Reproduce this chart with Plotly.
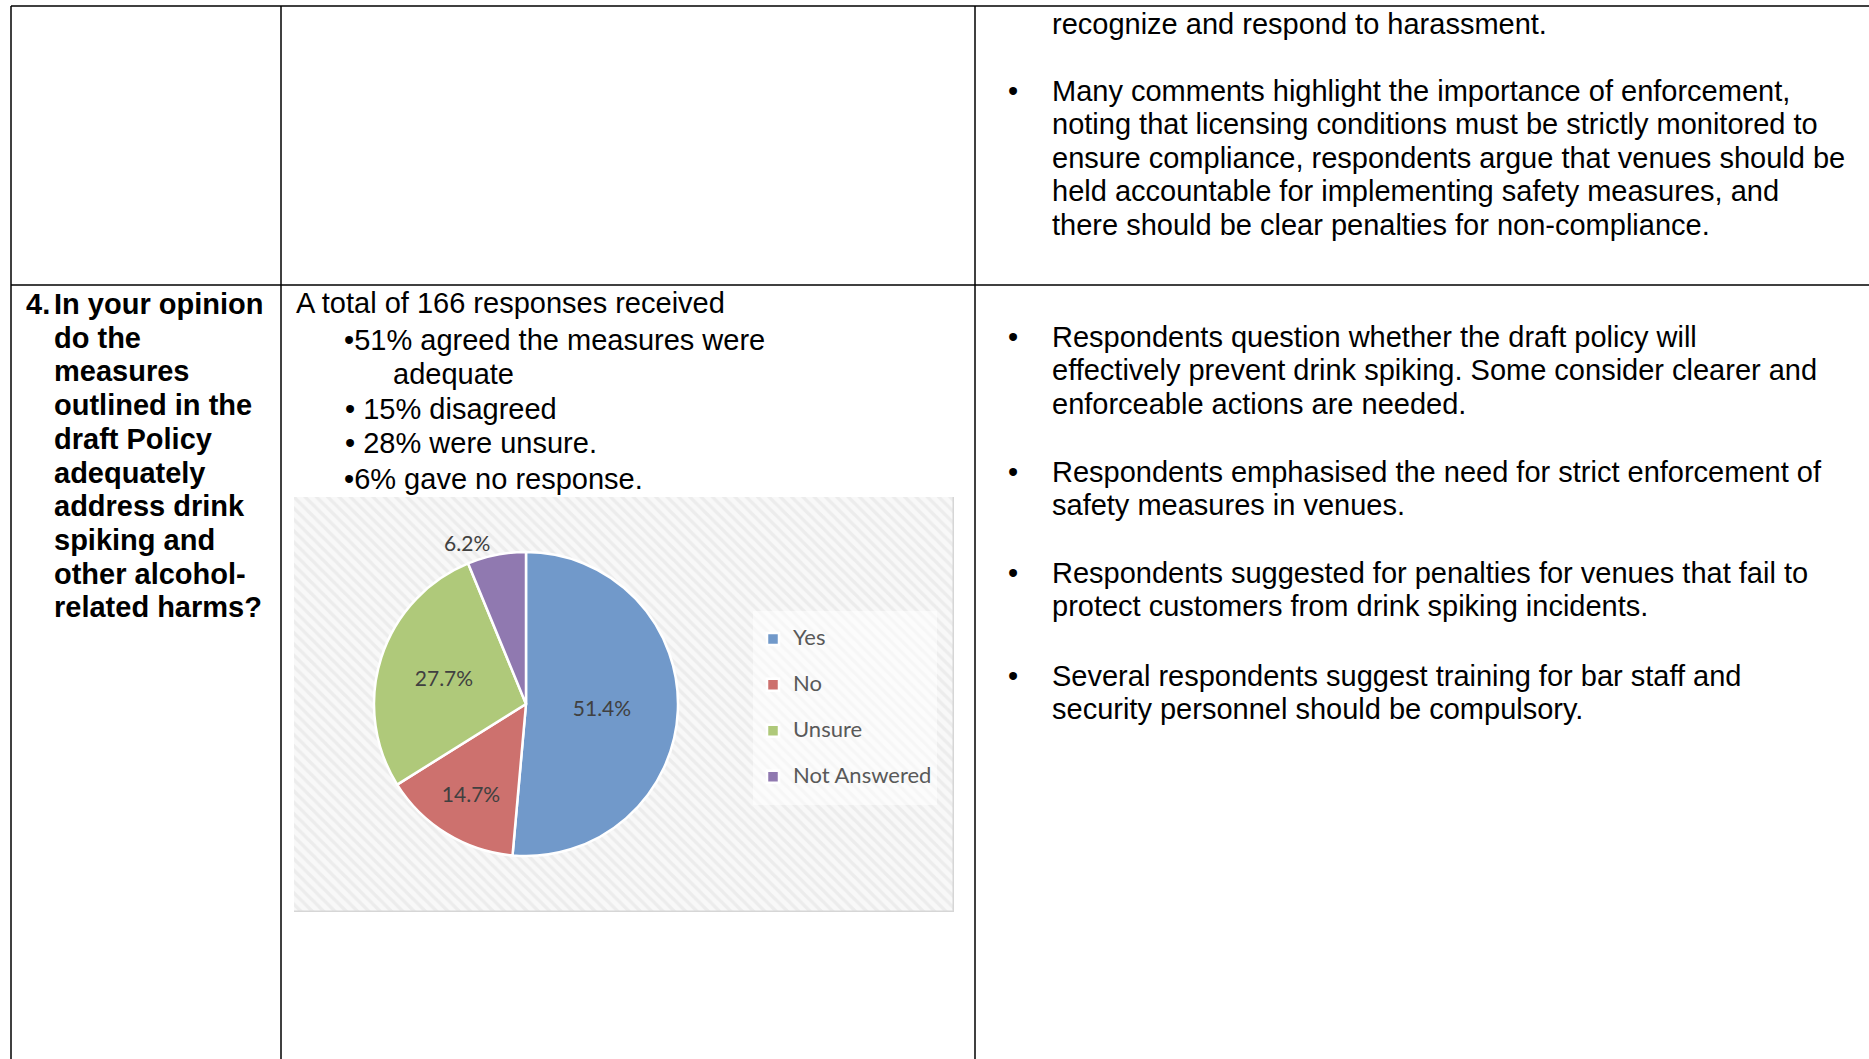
import plotly.graph_objects as go

W, H = 1869, 1059

# pie data (counts out of the answered question)
categories = ["Yes", "No", "Unsure", "Not Answered"]
counts = [91, 26, 49, 11]
slice_colors = ["#7199CA", "#CD716E", "#AFC97A", "#9079B0"]
label_positions = ["inside", "inside", "inside", "outside"]

# table text
question_number = "4."
question_lines = ["In your opinion", "do the", "measures", "outlined in the", "draft Policy",
                  "adequately", "address drink", "spiking and", "other alcohol-", "related harms?"]
summary_lines = [
    ("A total of 166 responses received", 294, 303),
    ("\u202251% agreed the measures were", 342, 340),
    ("adequate", 391, 374),
    ("\u2022 15% disagreed", 343, 409),
    ("\u2022 28% were unsure.", 343, 443),
    ("\u20226% gave no response.", 342, 479),
]
top_carry_line = "recognize and respond to harassment."
top_paragraphs = [
    ["Many comments highlight the importance of enforcement,",
     "noting that licensing conditions must be strictly monitored to",
     "ensure compliance, respondents argue that venues should be",
     "held accountable for implementing safety measures, and",
     "there should be clear penalties for non-compliance."],
]
comment_paragraphs = [
    ["Respondents question whether the draft policy will",
     "effectively prevent drink spiking. Some consider clearer and",
     "enforceable actions are needed."],
    ["Respondents emphasised the need for strict enforcement of",
     "safety measures in venues."],
    ["Respondents suggested for penalties for venues that fail to",
     "protect customers from drink spiking incidents."],
    ["Several respondents suggest training for bar staff and",
     "security personnel should be compulsory."],
]
comment_starts = [337, 472, 573, 676]

BODY = "Liberation Sans"
CHART = "Lato"


def px(x):
    return x / W


def py(y):
    return 1 - y / H


fig = go.Figure()

# hatched chart area behind the pie
fig.add_trace(go.Bar(
    x=[0], y=[1], width=[1],
    marker=dict(color="#F6F6F6",
                pattern=dict(shape="\\", fgcolor="#E0E0E0", bgcolor="#F8F8F8", size=8, solidity=0.4),
                line=dict(color="#D6D6D6", width=1.5)),
    hoverinfo="skip", showlegend=False,
))

# bigger legend font only to space the entries out; the visible label is smaller
legend_labels = [f"<span style='font-size:22px;baseline-shift:7px'>{c}</span>" for c in categories]

fig.add_trace(go.Pie(
    labels=legend_labels,
    values=counts,
    sort=False,
    direction="clockwise",
    rotation=0,
    marker=dict(colors=slice_colors, line=dict(color="white", width=2.5)),
    textinfo="percent",
    texttemplate="%{percent:.1%}",
    textposition=label_positions,
    insidetextorientation="horizontal",
    textfont=dict(family=CHART, size=21, color="#404040"),
    domain=dict(x=[px(374), px(678)], y=[py(856), py(552)]),
    hovertemplate="%{label}: %{value}<extra></extra>",
))

fig.update_layout(
    width=W, height=H,
    margin=dict(l=0, r=0, t=0, b=0),
    paper_bgcolor="white", plot_bgcolor="rgba(0,0,0,0)",
    xaxis=dict(domain=[px(294), px(954)], range=[-0.5, 0.5], visible=False, fixedrange=True),
    yaxis=dict(domain=[py(912), py(497)], range=[0, 1], visible=False, fixedrange=True),
    bargap=0,
    legend=dict(x=px(753), y=py(611), xanchor="left", yanchor="top",
                bgcolor="rgba(255,255,255,0.55)",
                font=dict(family=CHART, size=33, color="#595959")),
    showlegend=True,
)

# table grid
line = dict(color="black", width=1.5)
for y in (6, 285):
    fig.add_shape(type="line", xref="paper", yref="paper", x0=px(11), x1=1, y0=py(y), y1=py(y), line=line)
for x in (11, 281, 975):
    fig.add_shape(type="line", xref="paper", yref="paper", x0=px(x), x1=px(x), y0=py(6), y1=0, line=line)


def text(x, y, s, size=29, bold=False):
    fig.add_annotation(xref="paper", yref="paper", x=px(x), y=py(y), text=f"<b>{s}</b>" if bold else s,
                       xanchor="left", yanchor="middle", showarrow=False,
                       font=dict(family=BODY, size=size, color="black"))


# question column
text(24, 304, question_number, bold=True)
for i, s in enumerate(question_lines):
    text(52, 304 + i * 33.7, s, bold=True)

# summary column
for s, x, y in summary_lines:
    text(x, y, s)

# comments column
LS = 33.4
text(1050, 24, top_carry_line)
for para, y0 in zip(top_paragraphs + comment_paragraphs, [91] + comment_starts):
    text(1006, y0, "\u2022")
    for i, s in enumerate(para):
        text(1050, y0 + i * LS, s)

fig.write_html("out.html", config={"displayModeBar": False},
               post_script="document.body.style.margin='0';document.body.style.overflow='hidden';")
